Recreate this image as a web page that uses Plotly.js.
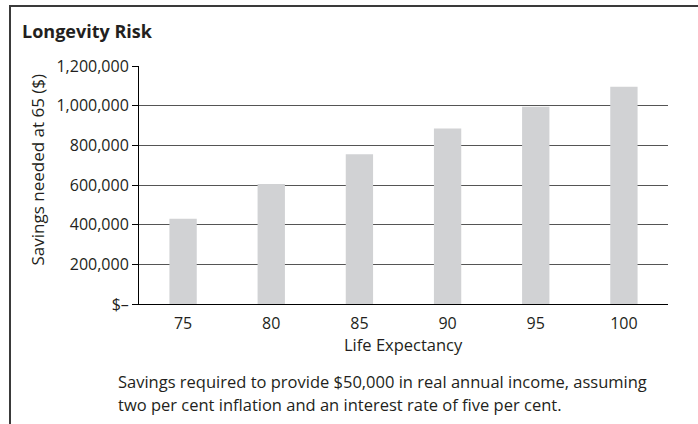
<!DOCTYPE html>
<html>
<head>
<meta charset="utf-8">
<script src="https://cdn.plot.ly/plotly-3.0.1.min.js"></script>
<style>
  html, body { margin: 0; padding: 0; background: #ffffff; }
  #wrap { position: relative; width: 698px; height: 424px; overflow: hidden; }
  #frame { position: absolute; left: 9px; top: 5px; width: 800px; height: 600px;
           border-left: 2px solid #3a3a3a; border-top: 2px solid #3a3a3a; }
  #chart { position: absolute; left: 0; top: 0; width: 698px; height: 424px; }
</style>
</head>
<body>
<div id="wrap">
  <div id="frame"></div>
  <div id="chart"></div>
</div>
<script>
const categories = ['75', '80', '85', '90', '95', '100'];
const savingsNeeded = [430000, 605000, 755000, 885000, 995000, 1095000];
const yTickValues = [0, 200000, 400000, 600000, 800000, 1000000, 1200000];
const yTickLabels = ['$\u2013', '200,000', '400,000', '600,000', '800,000', '1,000,000', '1,200,000'];
const chartTitle = 'Longevity Risk';
const yTitle = 'Savings needed at 65 ($)';
const xTitle = 'Life Expectancy';
const captionLines = [
  'Savings required to provide $50,000 in real annual income, assuming',
  'two per cent inflation and an interest rate of five per cent.'
];

const FONT = '"Open Sans", "Noto Sans", sans-serif';
const TXT = '#231f20';

const W = 698, H = 424;
const M = { l: 139, r: 30, t: 66, b: 120 };
const pw = W - M.l - M.r, ph = H - M.t - M.b;
const px = x => (x - M.l) / pw;           // pixel x -> paper x
const py = y => (H - M.b - y) / ph;       // pixel y -> paper y

const trace = {
  type: 'bar',
  x: categories,
  y: savingsNeeded,
  marker: { color: '#d1d2d4', line: { width: 0 } },
  hoverinfo: 'x+y'
};

const layout = {
  width: W, height: H,
  margin: M,
  paper_bgcolor: 'rgba(0,0,0,0)',
  plot_bgcolor: 'rgba(0,0,0,0)',
  bargap: 0.69,
  showlegend: false,
  font: { family: FONT, size: 16, color: TXT },
  title: {
    text: '<b>' + chartTitle + '</b>',
    font: { family: FONT, size: 18, color: TXT },
    xref: 'container', x: 22 / W, xanchor: 'left',
    yref: 'container', y: 1 - 32 / H, yanchor: 'middle'
  },
  xaxis: {
    type: 'category',
    showline: true, linecolor: '#000', linewidth: 1,
    showgrid: false, zeroline: false,
    ticks: '', ticklabelstandoff: 5,
    tickfont: { family: FONT, size: 16, color: TXT },
    fixedrange: true
  },
  yaxis: {
    range: [0, 1200000],
    tickvals: yTickValues, ticktext: yTickLabels,
    showline: true, linecolor: '#000', linewidth: 1,
    ticks: 'outside', ticklen: 6, tickcolor: '#000', tickwidth: 1,
    ticklabelstandoff: 0,
    showgrid: true, gridcolor: '#555', gridwidth: 1,
    zeroline: true, zerolinecolor: '#000', zerolinewidth: 1,
    tickfont: { family: FONT, size: 16, color: TXT },
    fixedrange: true
  },
  annotations: [
    { text: yTitle, textangle: -90, showarrow: false,
      xref: 'paper', yref: 'paper', x: px(36.5), y: py(170),
      xanchor: 'center', yanchor: 'middle',
      font: { family: FONT, size: 17, color: TXT } },
    { text: xTitle, showarrow: false,
      xref: 'paper', yref: 'paper', x: 0.5, y: py(344),
      xanchor: 'center', yanchor: 'middle',
      font: { family: FONT, size: 16.5, color: TXT } },
    { text: captionLines[0], showarrow: false, align: 'left',
      xref: 'paper', yref: 'paper', x: px(116), y: py(381),
      xanchor: 'left', yanchor: 'middle',
      font: { family: FONT, size: 16.5, color: TXT } },
    { text: captionLines[1], showarrow: false, align: 'left',
      xref: 'paper', yref: 'paper', x: px(116), y: py(404),
      xanchor: 'left', yanchor: 'middle',
      font: { family: FONT, size: 16.5, color: TXT } }
  ]
};

Plotly.newPlot('chart', [trace], layout, { displayModeBar: false, staticPlot: true });
</script>
</body>
</html>
